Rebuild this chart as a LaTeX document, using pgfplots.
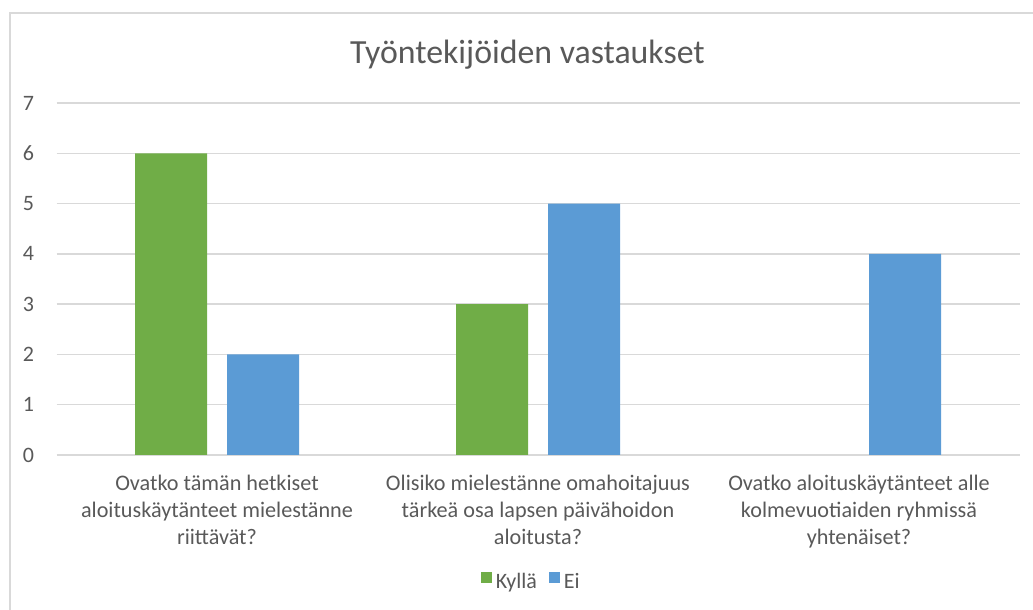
\documentclass[border=0pt]{standalone}
\usepackage{pgfplots}
\pgfplotsset{compat=1.18}
\usepackage{fontspec}
\setmainfont{Carlito}
\definecolor{kgreen}{HTML}{70AD47}
\definecolor{kblue}{HTML}{5B9BD5}
\definecolor{gridc}{HTML}{D9D9D9}
\definecolor{txt}{HTML}{595959}
\begin{document}
\begin{tikzpicture}[x=1pt,y=1pt]
\useasboundingbox (0,0) rectangle (516.5,305);
\draw[gridc, line width=0.8pt] (5,-2) -- (5,298.5) -- (520,298.5);
\node[txt, font=\fontsize{16.9}{20}\selectfont] at (263.75,277.5) {Työntekijöiden vastaukset};
\begin{axis}[
  at={(108.5pt,77.5pt)}, anchor=origin,
  scale only axis, width=481.5pt, height=176pt,
  ymin=0, ymax=7, ytick={0,1,...,7},
  xmin=-0.5, xmax=2.5, xtick={0,1,2},
  xticklabels={{Ovatko tämän hetkiset\\aloituskäytänteet mielestänne\\riittävät?},
               {Olisiko mielestänne omahoitajuus\\tärkeä osa lapsen päivähoidon\\aloitusta?},
               {Ovatko aloituskäytänteet alle\\kolmevuotiaiden ryhmissä\\yhtenäiset?}},
  axis line style={draw=none},
  ymajorgrids, grid style={gridc, line width=0.7pt},
  major tick length=0pt, tick style={draw=none},
  /pgf/number format/assume math mode=true,
  yticklabel style={txt, font=\fontsize{11}{13}\selectfont, anchor=east, inner sep=0pt, xshift=-11pt},
  xticklabel style={txt, font=\fontsize{11.1}{13.5}\selectfont, align=center, anchor=north, inner sep=0pt, yshift=-10pt},
  legend style={at={(0.492,-0.36)}, anchor=center, draw=none, fill=none,
    legend columns=2, font=\fontsize{11}{13}\selectfont, text=txt,
    nodes={inner sep=0pt},
    /tikz/every odd column/.append style={column sep=2pt},
    /tikz/every even column/.append style={column sep=6pt}},
  legend image code/.code={\fill[#1] (0pt,-0.5pt) rectangle (5.5pt,5pt);},
]
\addplot[ybar, bar width=36pt, bar shift=-23pt, fill=kgreen, draw=none] coordinates {(0,6) (1,3)};
\addlegendentry{Kyllä}
\addplot[ybar, bar width=36pt, bar shift=23pt, fill=kblue, draw=none] coordinates {(0,2) (1,5) (2,4)};
\addlegendentry{Ei}
\end{axis}
\end{tikzpicture}
\end{document}
